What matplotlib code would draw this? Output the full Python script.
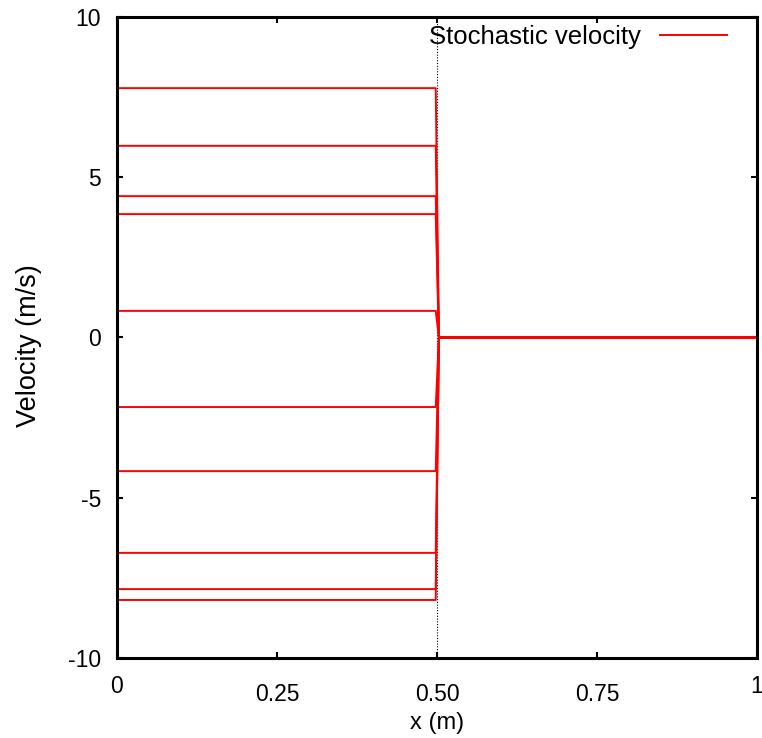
import matplotlib.pyplot as plt
import numpy as np

plt.rcParams['font.family'] = ['Liberation Sans', 'DejaVu Sans']
plt.rcParams['axes.unicode_minus'] = False

# velocity of each stochastic realisation on the left half (m/s)
left_velocities = [7.78, 5.98, 4.41, 3.85, 0.83, -2.17, -4.17, -6.72, -7.85, -8.19]
right_velocity = 0.0
x_nodes = [0.0, 0.498, 0.503, 1.0]

xticks = [0, 0.25, 0.5, 0.75, 1]
xticklabels = ['0', '0.25', '0.50', '0.75', '1']
yticks = [-10, -5, 0, 5, 10]

fig = plt.figure(figsize=(7.62, 7.38), dpi=100)
ax = fig.add_axes([0.1535, 0.1084, 0.84, 0.8686])

for i, v in enumerate(left_velocities):
    ax.plot(x_nodes, [v, v, right_velocity, right_velocity], color='red', lw=1.4,
            label='Stochastic velocity' if i == 0 else None)

ax.axvline(0.5, color='black', lw=0.8, ls=(0, (1, 1.5)), zorder=0)

ax.set_xlim(0, 1)
ax.set_ylim(-10, 10)
ax.set_xticks(xticks)
ax.set_xticklabels(xticklabels)
ax.set_yticks(yticks)
ax.tick_params(direction='in', length=4.5, width=1.5, top=True, right=True,
               labelsize=16.5)
ax.tick_params(axis='x', pad=18)
ax.tick_params(axis='y', pad=11.5)
# end labels sit a little higher
xt = ax.xaxis.get_major_ticks()
xt[0].set_pad(12)
xt[-1].set_pad(12)
for s in ax.spines.values():
    s.set_linewidth(2.2)

ax.set_xlabel('x (m)', fontsize=17, va='top')
ax.xaxis.set_label_coords(0.5, -0.084)
ax.set_ylabel('Velocity (m/s)', fontsize=19.5)
ax.yaxis.set_label_coords(-0.117, 0.488)

ax.legend(loc='center right', frameon=False, fontsize=18.5, markerfirst=False,
          handlelength=2.6, handletextpad=0.74, borderpad=0, borderaxespad=0,
          bbox_to_anchor=(0.953, 0.969))

fig.savefig('out.png', dpi=100)
